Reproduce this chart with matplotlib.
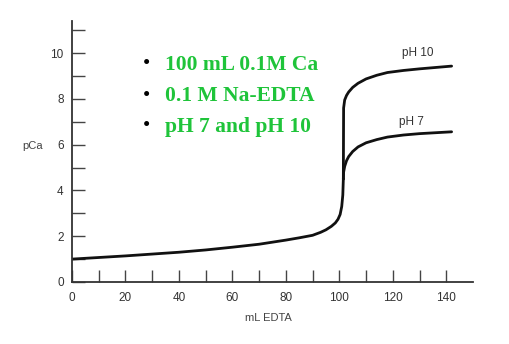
import matplotlib
matplotlib.use("Agg")
import matplotlib.pyplot as plt
from matplotlib.ticker import FixedLocator

# Shared titration branch (before equivalence)
vol_before = [0, 10, 20, 30, 40, 50, 60, 70, 80, 85, 90, 93, 95, 97, 98.5, 99.5, 100.3, 100.9, 101.3, 101.5]
pca_before = [1.0, 1.07, 1.14, 1.22, 1.3, 1.4, 1.52, 1.65, 1.83, 1.93, 2.04, 2.17, 2.28, 2.43, 2.58, 2.74, 2.95, 3.3, 3.8, 4.5]

# After equivalence
vol_ph10 = [101.5, 101.6, 102, 102.7, 103.5, 105, 107, 110, 114, 118, 124, 130, 136, 142]
pca_ph10 = [4.5, 7.6, 7.95, 8.15, 8.3, 8.5, 8.68, 8.87, 9.03, 9.15, 9.24, 9.31, 9.37, 9.43]
vol_ph7 = [101.5, 101.6, 102, 102.7, 103.5, 105, 107, 110, 114, 118, 124, 130, 136, 142]
pca_ph7 = [4.5, 4.8, 5.05, 5.3, 5.48, 5.7, 5.9, 6.08, 6.22, 6.33, 6.42, 6.48, 6.52, 6.56]

x_major = [0, 20, 40, 60, 80, 100, 120, 140]
x_minor = [10, 30, 50, 70, 90, 110, 130]
y_major = [0, 2, 4, 6, 8, 10]
y_minor = [1, 3, 5, 7, 9, 11]

bullets = ["100 mL 0.1M Ca", "0.1 M Na-EDTA", "pH 7 and pH 10"]
curve_labels = [("pH 10", 129.5, 10.0), ("pH 7", 127, 7.0)]

fig = plt.figure(figsize=(5.10, 3.44), dpi=100)
ax = fig.add_axes([72/510, 1-282/344, 401/510, 261/344])
ax.set_xlim(0, 150)
ax.set_ylim(0, 11.4)

ink = "#111111"
for xs, ys in [(vol_before, pca_before), (vol_ph10, pca_ph10), (vol_ph7, pca_ph7)]:
    ax.plot(xs, ys, color=ink, lw=2.0, solid_capstyle="round", solid_joinstyle="round")

for s in ["top", "right"]:
    ax.spines[s].set_visible(False)
for s in ["left", "bottom"]:
    ax.spines[s].set_color("#333333")
    ax.spines[s].set_linewidth(1.3)

ax.xaxis.set_major_locator(FixedLocator(x_major))
ax.xaxis.set_minor_locator(FixedLocator(x_minor))
ax.yaxis.set_major_locator(FixedLocator(y_major))
ax.yaxis.set_minor_locator(FixedLocator(y_minor))
ax.set_xticklabels([str(v) for v in x_major])
ax.set_yticklabels([str(v) for v in y_major])
ax.tick_params(which="both", direction="in", length=9, width=1.0, color="#444444")
ax.tick_params(axis="x", which="major", pad=7)
ax.tick_params(axis="y", which="major", pad=6)
for lab in ax.get_xticklabels() + ax.get_yticklabels():
    lab.set_fontfamily("Liberation Sans")
    lab.set_fontsize(8.5)
    lab.set_color("#333333")

fig.text(33/510, 1-146/344, "pCa", fontsize=8, color="#444444",
         family="Liberation Sans", ha="center", va="center")
fig.text(268/510, 1-318/344, "mL EDTA", fontsize=8, color="#444444",
         family="Liberation Sans", ha="center", va="center")

for txt, x, y in curve_labels:
    ax.text(x, y, txt, fontsize=8.5, color="#333333", family="Liberation Sans",
            ha="center", va="center")

green = "#1fc43a"
for i, t in enumerate(bullets):
    yy = 1 - (65 + 31*i)/344
    fig.text(147/510, yy, "\u2022", fontsize=15, color="black",
             family="Liberation Serif", ha="center", va="center")
    fig.text(165/510, yy, t, fontsize=15.5, color=green, weight="bold",
             family="Liberation Serif", ha="left", va="center")

fig.savefig("out.png", dpi=100)
